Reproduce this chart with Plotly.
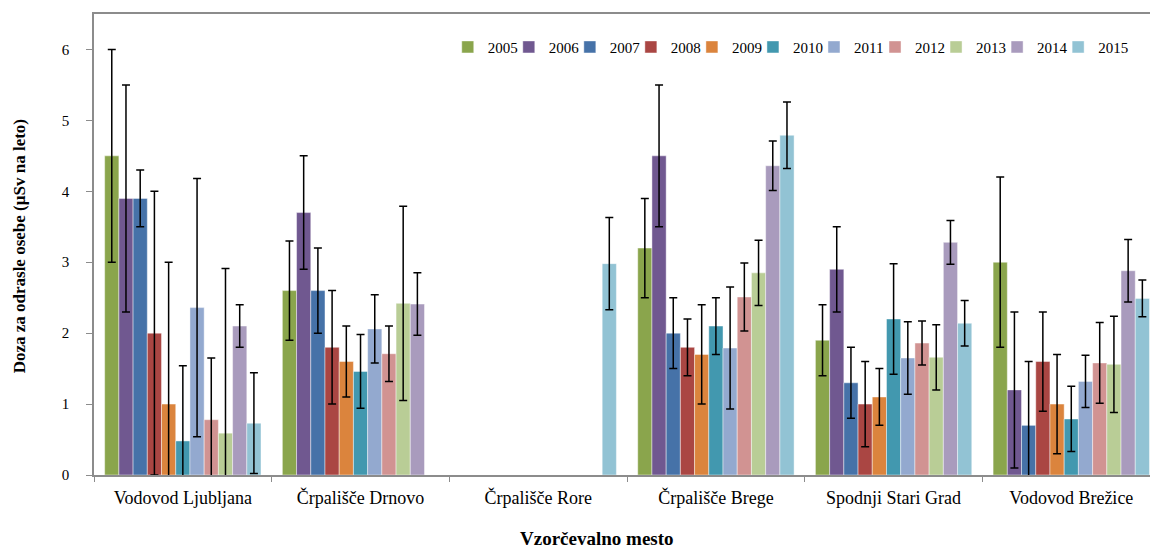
import plotly.graph_objects as go

locations = ["Vodovod Ljubljana", "Črpališče Drnovo", "Črpališče Rore",
             "Črpališče Brege", "Spodnji Stari Grad", "Vodovod Brežice"]
years = ["2005", "2006", "2007", "2008", "2009", "2010",
         "2011", "2012", "2013", "2014", "2015"]

v2005 = [4.5, 2.6, None, 3.2, 1.9, 3.0]
e2005 = [1.5, 0.7, None, 0.7, 0.5, 1.2]
v2006 = [3.9, 3.7, None, 4.5, 2.9, 1.2]
e2006 = [1.6, 0.8, None, 1.0, 0.6, 1.1]
v2007 = [3.9, 2.6, None, 2.0, 1.3, 0.7]
e2007 = [0.4, 0.6, None, 0.5, 0.5, 0.9]
v2008 = [2.0, 1.8, None, 1.8, 1.0, 1.6]
e2008 = [2.0, 0.8, None, 0.4, 0.6, 0.7]
v2009 = [1.0, 1.6, None, 1.7, 1.1, 1.0]
e2009 = [2.0, 0.5, None, 0.7, 0.4, 0.7]
v2010 = [0.48, 1.46, None, 2.1, 2.2, 0.79]
e2010 = [1.06, 0.52, None, 0.4, 0.78, 0.46]
v2011 = [2.36, 2.06, None, 1.79, 1.65, 1.32]
e2011 = [1.82, 0.48, None, 0.86, 0.51, 0.37]
v2012 = [0.78, 1.71, None, 2.51, 1.86, 1.58]
e2012 = [0.87, 0.39, None, 0.48, 0.31, 0.57]
v2013 = [0.59, 2.42, None, 2.85, 1.66, 1.56]
e2013 = [2.32, 1.37, None, 0.46, 0.46, 0.68]
v2014 = [2.1, 2.41, None, 4.36, 3.28, 2.88]
e2014 = [0.3, 0.44, None, 0.35, 0.31, 0.44]
v2015 = [0.73, None, 2.98, 4.79, 2.14, 2.49]
e2015 = [0.71, None, 0.65, 0.47, 0.32, 0.26]

colors = ["#8AA54C", "#705890", "#4672A8", "#AA4643", "#DB843D", "#4298AF",
          "#93A9CF", "#D19392", "#B9CD96", "#A99BBD", "#92C3D4"]

series = [(years[0], v2005, e2005), (years[1], v2006, e2006), (years[2], v2007, e2007),
          (years[3], v2008, e2008), (years[4], v2009, e2009), (years[5], v2010, e2010),
          (years[6], v2011, e2011), (years[7], v2012, e2012), (years[8], v2013, e2013),
          (years[9], v2014, e2014), (years[10], v2015, e2015)]

FONT = "Liberation Serif"

fig = go.Figure()
legend_layouts = {}
for i, ((name, vals, errs), col) in enumerate(zip(series, colors)):
    key = f"legend{i + 2}"
    fig.add_trace(go.Bar(
        name=name, x=locations, y=vals, legend=key, showlegend=True,
        marker=dict(color=col, line=dict(color="rgba(255,255,255,0.55)", width=0.8)),
        error_y=dict(type="data", array=errs, visible=True, color="black",
                     thickness=1.5, width=4),
    ))
    legend_layouts[key] = dict(
        orientation="h", x=0.335 + i * 0.0578, xanchor="left", y=0.928, yanchor="middle",
        font=dict(family=FONT, size=15, color="black"), visible=True,
        itemwidth=30, bgcolor="rgba(0,0,0,0)")

fig.update_layout(
    width=1150, height=548, autosize=False, showlegend=True,
    margin=dict(l=94, r=0, t=14, b=73, autoexpand=False),
    paper_bgcolor="white", plot_bgcolor="white",
    barmode="group", bargap=0.12, bargroupgap=0,
    font=dict(family=FONT, color="black"),
    xaxis=dict(type="category", range=[-0.5, 5.443],
               showline=True, linecolor="#8c8c8c", linewidth=1.5, mirror=True,
               ticks="outside", tickson="boundaries", ticklen=5, tickcolor="#8c8c8c",
               tickwidth=1.2, showgrid=False, ticklabelstandoff=6,
               tickfont=dict(family=FONT, size=18, color="black")),
    yaxis=dict(range=[0, 6.5], dtick=1, tick0=0,
               showline=True, linecolor="#8c8c8c", linewidth=1.5, mirror=False,
               ticks="outside", ticklen=6, tickcolor="#8c8c8c", tickwidth=1.2,
               showgrid=False, zeroline=False, ticklabelstandoff=14,
               tickfont=dict(family=FONT, size=15, color="black")),
    annotations=[
        dict(text="<b>Doza za odrasle osebe (µSv na leto)</b>", xref="paper", yref="paper",
             x=-0.0705, y=0.495, xanchor="center", yanchor="middle", textangle=-90,
             showarrow=False, font=dict(family=FONT, size=17, color="black")),
        dict(text="<b>Vzorčevalno mesto</b>", xref="paper", yref="paper",
             x=0.476, y=-0.138, xanchor="center", yanchor="middle",
             showarrow=False, font=dict(family=FONT, size=19, color="black")),
    ],
)
fig.update_layout(**legend_layouts)

fig.write_html("out.html", config={"displayModeBar": False},
               post_script="document.body.style.margin='0';")
